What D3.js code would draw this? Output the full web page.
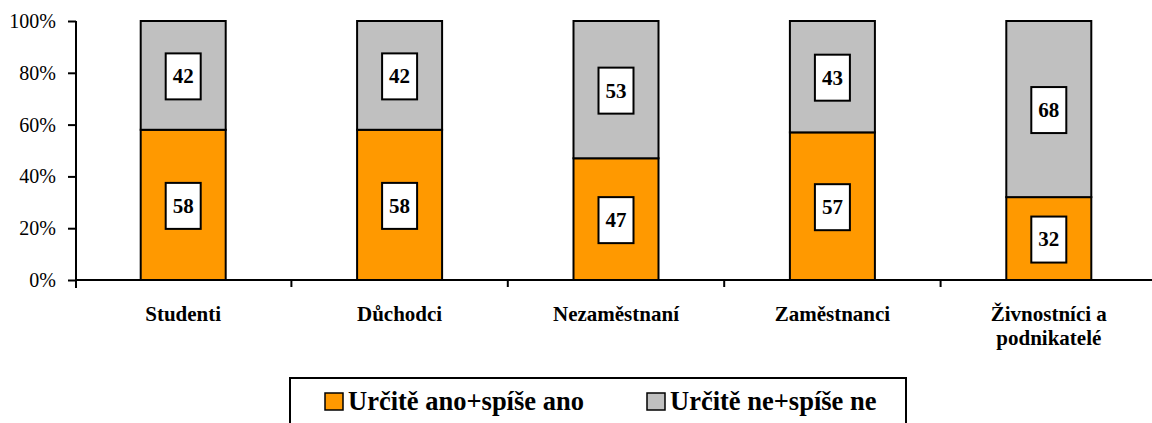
<!DOCTYPE html>
<html>
<head>
<meta charset="utf-8">
<script src="https://cdn.jsdelivr.net/npm/d3@7"></script>
<style>
  body { margin: 0; background: #fff; }
</style>
</head>
<body>
<div id="chart"></div>
<script>
let categories = [
  ["Studenti"],
  ["Důchodci"],
  ["Nezaměstnaní"],
  ["Zaměstnanci"],
  ["Živnostníci a", "podnikatelé"]
];
let seriesNames = ["Určitě ano+spíše ano", "Určitě ne+spíše ne"];
let yesValues = [58, 58, 47, 57, 32];
let noValues  = [42, 42, 53, 43, 68];
let yTicks = [0, 20, 40, 60, 80, 100];
let colorPalette = ["#FF9900", "#C0C0C0"];

let serif = "'Liberation Serif', 'Times New Roman', serif";
let width = 1152, height = 423;

let svg = d3.select("#chart")
  .append("svg")
    .attr("width", width)
    .attr("height", height)
    .attr("font-family", serif);

let x = d3.scaleBand()
  .domain(d3.range(categories.length))
  .range([75, 1157]);

let y = d3.scaleLinear()
  .domain([0, 100])
  .range([280, 21]);

let barWidth = 85;

// stacked rows
let rows = categories.map(function(c, i) {
  return [
    {i: i, s: 0, y0: 0, y1: yesValues[i], v: yesValues[i]},
    {i: i, s: 1, y0: yesValues[i], y1: yesValues[i] + noValues[i], v: noValues[i]}
  ];
}).flat();

svg.selectAll("rect.bar")
  .data(rows)
  .enter().append("rect")
    .attr("class", "bar")
    .attr("x", d => x(d.i) + x.bandwidth() / 2 - barWidth / 2)
    .attr("y", d => y(d.y1))
    .attr("width", barWidth)
    .attr("height", d => y(d.y0) - y(d.y1))
    .attr("fill", d => colorPalette[d.s])
    .attr("stroke", "#000")
    .attr("stroke-width", 2);

// value labels
let lab = svg.selectAll("g.lab")
  .data(rows)
  .enter().append("g")
    .attr("class", "lab")
    .attr("transform", d => translate(x(d.i) + x.bandwidth() / 2, (y(d.y0) + y(d.y1)) / 2 + 1));

lab.append("rect")
  .attr("x", -17.5).attr("y", -23)
  .attr("width", 35).attr("height", 46)
  .attr("fill", "#fff")
  .attr("stroke", "#000")
  .attr("stroke-width", 2);

lab.append("text")
  .attr("text-anchor", "middle")
  .attr("dy", "0.33em")
  .attr("font-size", 21)
  .attr("font-weight", "bold")
  .text(d => d.v);

// y axis
let yAxis = svg.append("g")
  .attr("transform", translate(76, 0))
  .call(d3.axisLeft(y).tickValues(yTicks).tickSize(8).tickPadding(12)
    .tickFormat(d => d + "%"));
yAxis.attr("font-family", serif);
yAxis.select(".domain").attr("d", "M0,21V288").attr("stroke-width", 2);
yAxis.selectAll(".tick line").attr("stroke-width", 2);
yAxis.selectAll(".tick text")
  .attr("font-size", 20)
  .attr("fill", "#000");

// x axis line and separating ticks
svg.append("line")
  .attr("x1", 75).attr("x2", width)
  .attr("y1", y(0)).attr("y2", y(0))
  .attr("stroke", "#000").attr("stroke-width", 2);

svg.selectAll("line.sep")
  .data(d3.range(1, categories.length))
  .enter().append("line")
    .attr("class", "sep")
    .attr("x1", d => x(d)).attr("x2", d => x(d))
    .attr("y1", y(0)).attr("y2", y(0) + 7)
    .attr("stroke", "#000").attr("stroke-width", 2);

// category labels
let cat = svg.selectAll("text.cat")
  .data(categories)
  .enter().append("text")
    .attr("class", "cat")
    .attr("text-anchor", "middle")
    .attr("x", (d, i) => x(i) + x.bandwidth() / 2)
    .attr("y", 321)
    .attr("font-size", 21)
    .attr("font-weight", "bold");
cat.selectAll("tspan")
  .data(d => d)
  .enter().append("tspan")
    .attr("x", function() { return d3.select(this.parentNode).attr("x"); })
    .attr("dy", (d, j) => j === 0 ? 0 : 24)
    .text(d => d);

// legend
svg.append("rect")
  .attr("x", 290).attr("y", 378)
  .attr("width", 616).attr("height", 60)
  .attr("fill", "#fff")
  .attr("stroke", "#000")
  .attr("stroke-width", 2);

let legendX = [325, 647];
let leg = svg.selectAll("g.leg")
  .data(seriesNames)
  .enter().append("g")
    .attr("class", "leg")
    .attr("transform", (d, i) => translate(legendX[i], 0));

leg.append("rect")
  .attr("x", 0).attr("y", 393)
  .attr("width", 18).attr("height", 17)
  .attr("fill", (d, i) => colorPalette[i])
  .attr("stroke", "#000")
  .attr("stroke-width", 1.5);

leg.append("text")
  .attr("x", 23).attr("y", 410)
  .attr("font-size", 26.5)
  .attr("font-weight", "bold")
  .text(d => d);

function translate(x, y = 0) {
  return "translate(" + x + "," + y + ")";
}
</script>
</body>
</html>
